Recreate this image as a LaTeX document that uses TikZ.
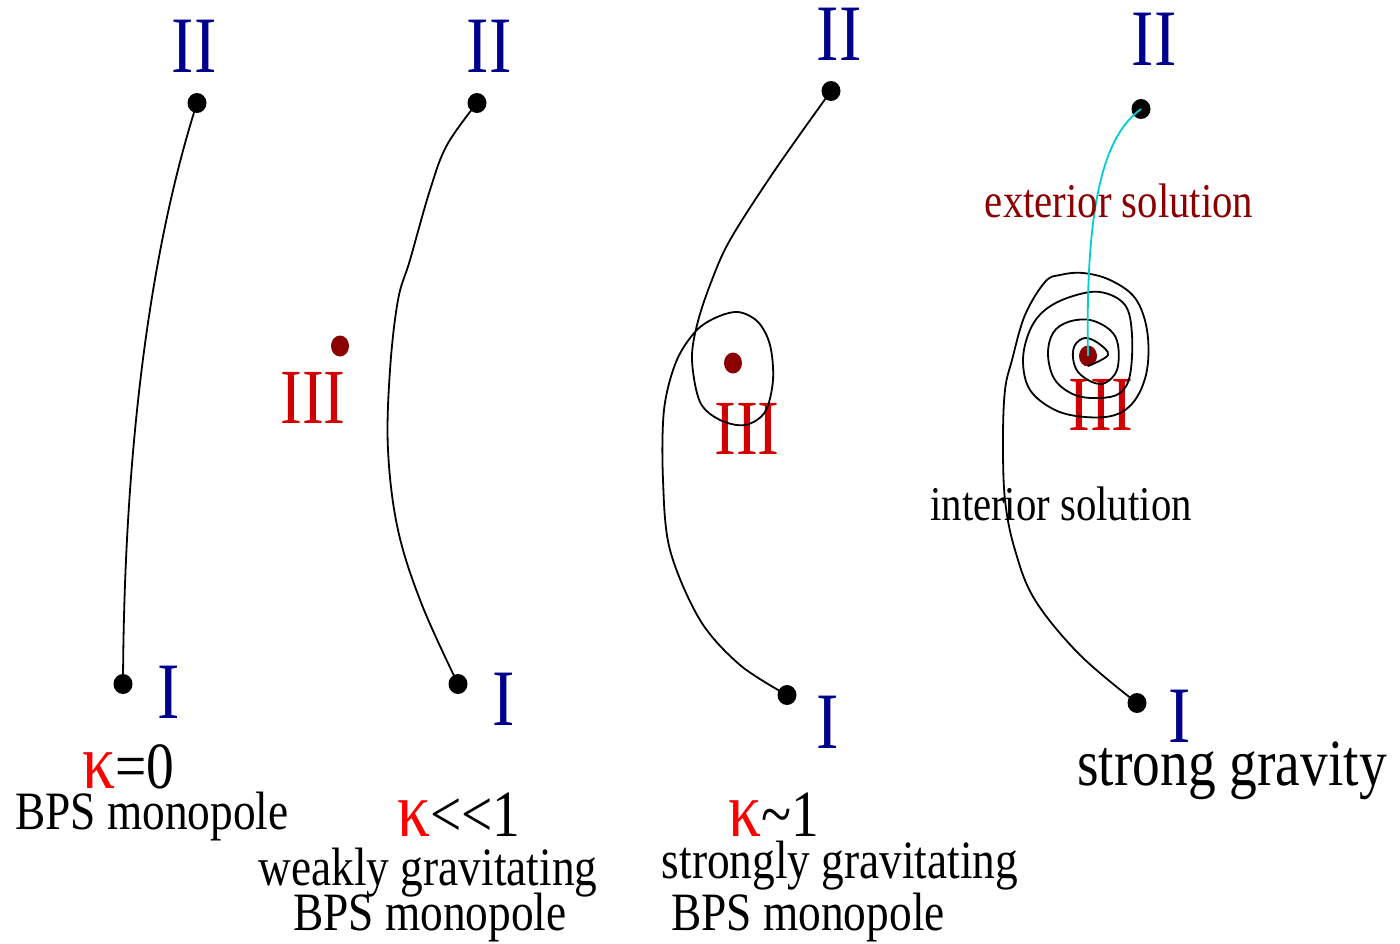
\documentclass[tikz,border=0pt]{standalone}
\usepackage{fontspec}
\setmainfont[FakeStretch=0.84]{Liberation Serif}
\definecolor{nblue}{RGB}{0,0,140}
\definecolor{rthree}{RGB}{210,0,0}
\definecolor{dred}{RGB}{139,0,0}
\definecolor{kred}{RGB}{255,0,0}
\definecolor{cyanl}{RGB}{0,206,209}
\tikzset{
  lbl/.style={inner sep=0pt, anchor=base},
  roman/.style={lbl, text=nblue, font=\fontsize{80}{90}\selectfont},
  rthreelbl/.style={lbl, text=rthree, font=\fontsize{78}{88}\selectfont},
  kap/.style={lbl, font=\fontsize{66}{70}\selectfont},
  desc/.style={lbl, font=\fontsize{54}{60}\selectfont},
  big/.style={lbl, font=\fontsize{66}{72}\selectfont},
  sol/.style={lbl, font=\fontsize{48.5}{54}\selectfont},
  bdot/.style={ellipse, fill=black, inner sep=0pt, minimum width=19pt, minimum height=20pt},
  rdot/.style={ellipse, fill=dred, inner sep=0pt, minimum width=18pt, minimum height=21pt},
  curve/.style={line width=1.8pt, black},
}
\usetikzlibrary{shapes.geometric}
\newcommand{\kk}{{\color{kred}\fontsize{78}{80}\selectfont κ}}
\begin{document}
\begin{tikzpicture}[x=1pt,y=-1pt]
\useasboundingbox (0,0) rectangle (1400,944);
% Panel 1
\node[roman] (t1) at (194,73) {II};
\node[bdot] (a1) at (197,103) {};
\node[bdot] (b1) at (123,684) {};
\node[roman] (i1) at (169,718) {I};
\draw[curve] (a1.center) .. controls (150,250) and (124,450) .. (b1.center);
\node[kap] (k1) at (128,788) {\kk=0};
\node[desc] (d1) at (152,829) {BPS monopole};
% Panel 2
\node[roman] (t2) at (489,73) {II};
\node[bdot] (a2) at (477,103) {};
\node[rdot] (c2) at (340,346) {};
\node[rthreelbl] (r2) at (313,423) {III};
\node[bdot] (b2) at (458,684) {};
\node[roman] (i2) at (504,725) {I};
\draw[curve] plot[smooth, tension=0.6] coordinates {(477,103) (447,145) (430,190) (410,260) (398,300) (390,370) (388,450) (398,530) (422,605) (458,684)};
\node[kap] (k2) at (459,836) {\kk<{}<{}1};
\node[desc] (d2a) at (428,885) {weakly gravitating};
\node[desc] (d2b) at (430,930) {BPS monopole};
% Panel 3
\node[roman] (t3) at (839,61) {II};
\node[bdot] (a3) at (831,91) {};
\node[rdot] (c3) at (733,363) {};
\node[rthreelbl] (r3) at (747,454) {III};
\node[bdot] (b3) at (787,695) {};
\node[roman] (i3) at (828,748) {I};
\draw[curve] plot[smooth, tension=0.55] coordinates {(831,91) (775,170) (730,240) (710,285) (697,325) (692,360) (700,402) (720,420) (745,425) (765,412) (773,380) (770,345) (758,322) (738,312) (715,318) (695,332) (676,362) (664,410) (663,480) (670,550) (700,620) (740,665) (787,695)};
\node[kap] (k3) at (774,836) {\kk\textasciitilde1};
\node[desc] (d3a) at (840,878) {strongly gravitating};
\node[desc] (d3b) at (808,930) {BPS monopole};
% Panel 4
\node[roman] (t4) at (1154,66) {II};
\node[bdot] (a4) at (1141,109) {};
\node[rdot] (c4) at (1088,356) {};
\node[rthreelbl] (r4) at (1101,430) {III};
\node[bdot] (b4) at (1137,703) {};
\node[roman] (i4) at (1180,742) {I};
\draw[curve] plot[smooth, tension=0.6] coordinates {(1088,366) (1108,355) (1098,343) (1085,338) (1075,345) (1073,358) (1078,372) (1092,382) (1105,383) (1117,370) (1118,345) (1110,330) (1090,320) (1068,322) (1053,333) (1048,355) (1055,380) (1075,395) (1100,398) (1120,393) (1130,375) (1132,335) (1125,305) (1100,292) (1070,297) (1045,310) (1030,330) (1023,360) (1030,390) (1055,410) (1085,417) (1115,415) (1135,400) (1147,370) (1147,330) (1135,298) (1110,280) (1083,273) (1060,275) (1045,282) (1025,315) (1012,360) (1005,390) (1003,440) (1005,500) (1015,550) (1035,600) (1080,655) (1137,703)};
\draw[line width=1.8pt, cyanl] (a4.center) .. controls (1105,135) and (1085,200) .. (c4.center);
\node[sol, text=dred] (ext) at (1119,218) {exterior solution};
\node[sol] (int) at (1061,520) {interior solution};
\node[big] (sg) at (1232,785) {strong gravity};
\end{tikzpicture}
\end{document}
